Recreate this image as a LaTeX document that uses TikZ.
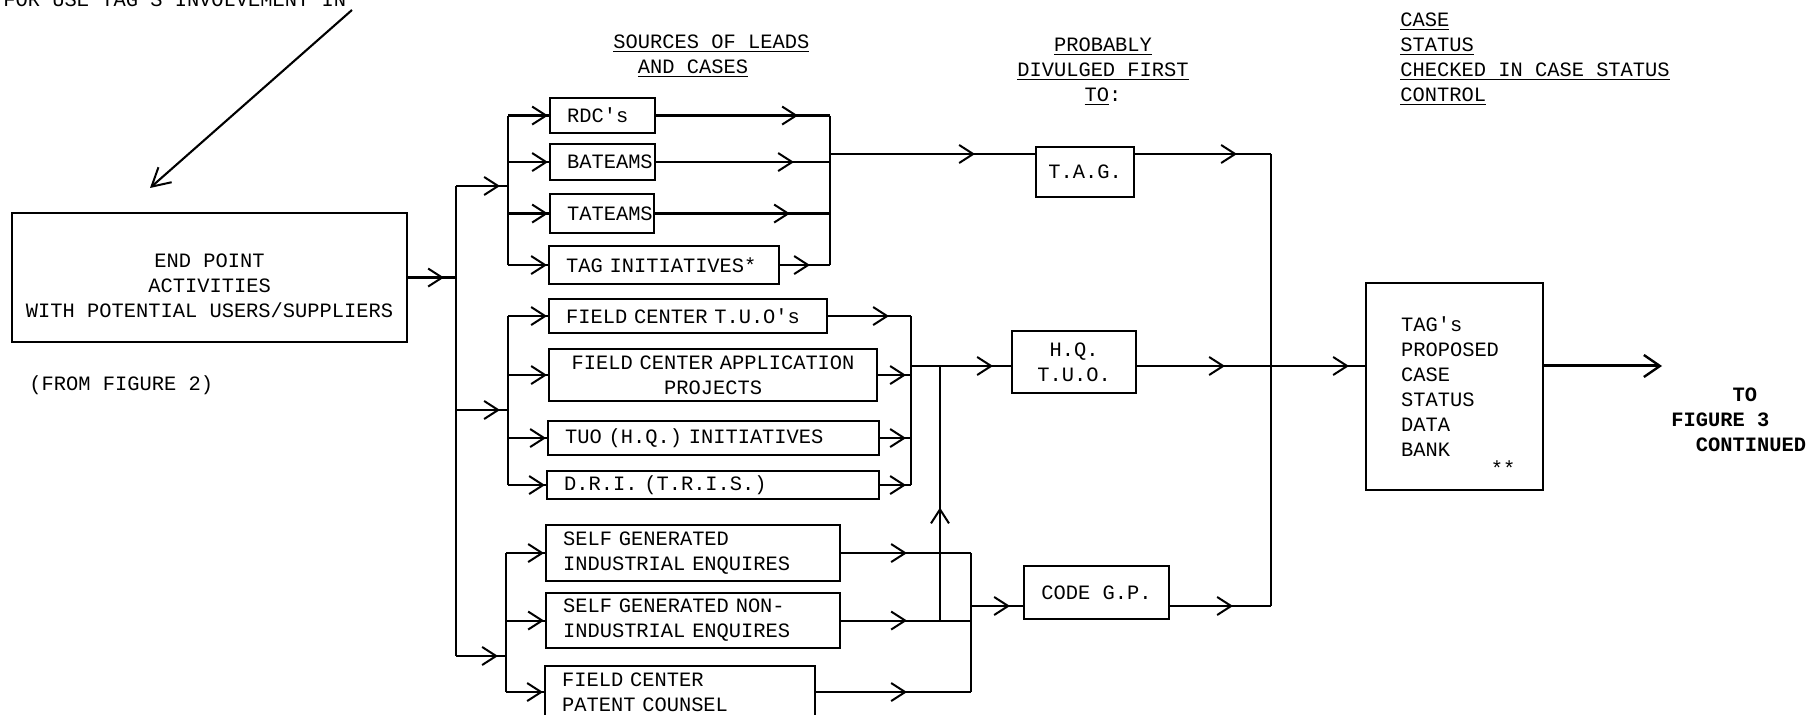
\documentclass[tikz,border=0pt]{standalone}
\usepackage{fontspec}
\setmonofont{Liberation Mono}
\usetikzlibrary{positioning,arrows.meta,calc,decorations.markings}

\newcommand{\typer}{\ttfamily\fontsize{10.2}{12.5}\selectfont}

\begin{document}
\begin{tikzpicture}[x=0.5pt, y=-0.5pt,
    every node/.style={font=\typer, inner sep=0pt},
    boxline/.style={line width=1.05pt},
    srcbox/.style={draw, boxline, anchor=north west, align=left, inner xsep=8.5pt, inner ysep=0pt},
    plainbox/.style={draw, boxline, anchor=north west, align=center},
    flow/.style={boxline, postaction={decorate}, decoration={markings,
        mark=at position #1 with {\arrow{Straight Barb[length=7pt,width=9pt,line width=1pt]}}}},
    flow/.default=-0.5pt]
  \clip (0,0) rectangle (1809,715);

  % headings
  \node[anchor=base west] (toptxt) at (3,7) {FOR USE TAG'S INVOLVEMENT IN};
  \node[anchor=west, align=left] (srchead) at (613,56)
      {\underline{SOURCES OF LEADS}\\\phantom{XX}\underline{AND CASES}};
  \node[align=center] (probhead) at (1103,72)
      {\underline{PROBABLY}\\\underline{DIVULGED FIRST}\\\underline{TO}:};
  \node[anchor=west, align=left] (casehead) at (1400,59)
      {\underline{CASE}\\\underline{STATUS}\\\underline{CHECKED IN CASE STATUS}\\\underline{CONTROL}};

  \coordinate (ptr0) at (352,10);
  \coordinate (ptr1) at (150,188);
  \draw[boxline, -{Straight Barb[length=9pt,width=10pt,line width=1pt]}] (ptr0) -- (ptr1);

  \node[plainbox, minimum width=197.5pt, minimum height=64.5pt] (endpt) at (11,212)
      {\rule{0pt}{15pt}END POINT\\ACTIVITIES\\WITH POTENTIAL USERS/SUPPLIERS};
  \node[anchor=west] (fromfig) at (29,385) {(FROM FIGURE 2)};

  % sources of leads and cases
  \node[srcbox, text width=35.5pt, minimum height=17.5pt] (rdc) at (549,97) {RDC's};
  \node[srcbox, text width=35.5pt, minimum height=18pt] (bateams) at (549,143) {BATEAMS};
  \node[srcbox, text width=35pt, minimum height=19.5pt] (tateams) at (549,193) {TATEAMS};
  \node[srcbox, text width=98pt, minimum height=19pt] (taginit) at (548,245) {TAG INITIATIVES*};
  \node[srcbox, text width=122pt, minimum height=17pt] (fctuo) at (548,298) {FIELD CENTER T.U.O's};
  \node[srcbox, align=center, text width=147pt, minimum height=26pt] (fcapp) at (548,348)
      {FIELD CENTER APPLICATION\\PROJECTS};
  \node[srcbox, text width=148.5pt, minimum height=17pt] (tuohq) at (547,420) {TUO (H.Q.) INITIATIVES};
  \node[srcbox, text width=149pt, minimum height=14pt] (dri) at (546,470) {D.R.I. (T.R.I.S.)};
  \node[srcbox, text width=130pt, minimum height=28pt] (selfind) at (545,524)
      {SELF GENERATED\\INDUSTRIAL ENQUIRES};
  \node[srcbox, text width=130pt, minimum height=27.5pt] (selfnon) at (545,592)
      {SELF GENERATED NON-\\INDUSTRIAL ENQUIRES};
  \node[srcbox, text width=118pt, minimum height=26pt] (patent) at (544,665)
      {FIELD CENTER\\PATENT COUNSEL};

  % divulged first to
  \node[plainbox, minimum width=49pt, minimum height=25pt] (tag) at (1035,146) {T.A.G.};
  \node[plainbox, minimum width=62pt, minimum height=31pt] (hq) at (1011,330) {H.Q.\\T.U.O.};
  \node[plainbox, minimum width=72.5pt, minimum height=26.5pt] (code) at (1023,565) {CODE G.P.};

  % case status
  \node[draw, boxline, anchor=north west, align=left, text width=53.5pt, inner xsep=17.5pt,
        minimum height=103.5pt] (bank) at (1365,282)
      {TAG's\\PROPOSED\\CASE\\STATUS\\DATA\\BANK};
  \node (bankmark) at (1503,468) {**};
  \node[anchor=west, align=left, font=\typer\bfseries] (tofig) at (1671,420)
      {\phantom{00000}TO\\FIGURE 3\\\phantom{00}CONTINUED};

  % junctions
  \coordinate (tr1) at (456,186);
  \coordinate (tr2) at (456,410);
  \coordinate (tr3) at (456,656);
  \coordinate (sj1) at (508,186);
  \coordinate (sj2) at (508,410);
  \coordinate (sj3) at (506,656);
  \coordinate (mj1) at (830,154);
  \coordinate (mj2) at (911,366);
  \coordinate (mj3) at (971,606);
  \coordinate (upx) at (940,366);
  \coordinate (bus) at (1271,154);
  \coordinate (cont) at (1662,366);

  \draw[flow=-6pt] (endpt.east) -- (endpt.east -| tr1);
  \draw[boxline] (tr1) -- (tr3);
  \foreach \j/\k in {tr1/sj1, tr2/sj2, tr3/sj3}
    \draw[flow=-4pt] (\j) -- (\k);
  \draw[boxline] (rdc.west -| sj1) -- (taginit.west -| sj1);
  \draw[boxline] (fctuo.west -| sj2) -- (dri.west -| sj2);
  \draw[boxline] (selfind.west -| sj3) -- (patent.west -| sj3);
  \foreach \b/\s in {rdc/sj1, bateams/sj1, tateams/sj1, taginit/sj1,
                     fctuo/sj2, fcapp/sj2, tuohq/sj2, dri/sj2,
                     selfind/sj3, selfnon/sj3, patent/sj3}
    \draw[flow] (\b.west -| \s) -- (\b.west);

  % merging to the first receiver
  \foreach \b/\gap in {rdc/16pt, bateams/18pt, tateams/20pt, taginit/10pt}
    \draw[flow=-\gap] (\b.east) -- (\b.east -| mj1);
  \draw[boxline] (rdc.east -| mj1) -- (taginit.east -| mj1);
  \foreach \b/\gap in {fctuo/11pt, fcapp/2.5pt, tuohq/2.5pt, dri/2.5pt}
    \draw[flow=-\gap] (\b.east) -- (\b.east -| mj2);
  \draw[boxline] (fctuo.east -| mj2) -- (dri.east -| mj2);
  \foreach \b in {selfind, selfnon, patent}
    \draw[flow=-32pt] (\b.east) -- (\b.east -| mj3);
  \draw[boxline] (selfind.east -| mj3) -- (patent.east -| mj3);

  \draw[flow=-30pt] (mj1) -- (mj1 -| tag.west);
  \draw[flow=-9pt] (mj2) -- (mj2 -| hq.west);
  \draw[flow=-6.5pt] (mj3) -- (mj3 -| code.west);
  \draw[flow=56.5pt] (selfnon.east -| upx) -- (upx);

  % to the data bank
  \draw[flow=-17pt] (tag.east |- mj1) -- (bus);
  \draw[flow=-23pt] (hq.east |- mj2) -- (bus |- mj2);
  \draw[flow=-19pt] (code.east |- mj3) -- (bus |- mj3);
  \draw[boxline] (bus) -- (bus |- mj3);
  \draw[flow=-8pt] (bus |- mj2) -- (bank.west |- mj2);
  \draw[line width=1.5pt, -{Straight Barb[length=8pt,width=11pt,line width=1.2pt]}]
      (bank.east |- mj2) -- (cont);
\end{tikzpicture}
\end{document}
